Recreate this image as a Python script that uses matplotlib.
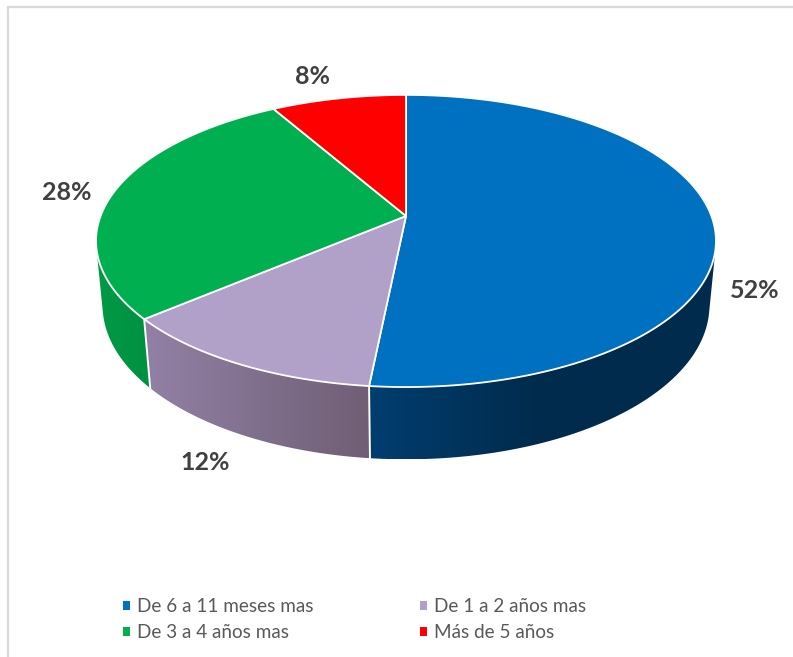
import numpy as np
import matplotlib
matplotlib.use("Agg")
import matplotlib.pyplot as plt
from matplotlib.patches import Patch, Polygon
from matplotlib.colors import to_rgb

categories = ["De 6 a 11 meses mas", "De 1 a 2 años mas", "De 3 a 4 años mas", "Más de 5 años"]
values = [51.6, 12.2, 27.9, 8.3]
labels = ["52%", "12%", "28%", "8%"]

top_colors = ["#0070C0", "#B1A0C7", "#00B050", "#FF0000"]
side_left = ["#003E70", "#9281A5", "#009A45", "#B00000"]
side_right = ["#002B4C", "#705F75", "#009040", "#B00000"]
side_fade = [170, 220, 60, 60]  # px of screen width the side gradient takes
label_pos = [(755, 291), (205, 463), (67, 193), (312, 76)]

plt.rcParams["font.family"] = ["Lato", "DejaVu Sans"]

fig = plt.figure(figsize=(7.93, 6.57), dpi=100, facecolor="white")
ax = fig.add_axes([0, 0, 1, 1])
ax.axis("off")

# perspective model of the disc
CX, CY = 406.0, 216.0
A, B, K = 141.8, 305.4, 0.171
D, E = 65.0, 0.021
VPY = CY + D / E  # the wall's vertical edges converge here


def top_pt(t):
    x, y = np.sin(t), -np.cos(t)
    w = 1 - K * y
    return CX + B * x / w, CY + A * y / w


def bot_pt(t):
    x, y = np.sin(t), -np.cos(t)
    w = 1 - K * y + E
    return CX + B * x / w, CY + (A * y + D) / w


# silhouette: the wall is visible between the two tangents drawn from the vanishing point
scan = np.linspace(0, np.pi, 4000)
sx, sy = top_pt(scan)
t_right = scan[np.argmax((sx - CX) / (VPY - sy))]
t_left = 2 * np.pi - t_right

# frame (only left and top edges are visible)
ax.plot([8, 8, 793], [657, 6.5, 6.5], color="#D9D9D9", lw=1.6, solid_joinstyle="miter", zorder=0)

edges = np.radians(np.concatenate([[0], np.cumsum(values)]) / np.sum(values) * 360)

# side walls: a horizontal gradient image clipped to each wall's visible outline
for i in range(len(values)):
    lo, hi = max(edges[i], t_right), min(edges[i + 1], t_left)
    if hi <= lo:
        continue
    t = np.linspace(lo, hi, 300)
    xt, yt = top_pt(t)
    xb, yb = bot_pt(t)
    outline = np.column_stack([np.r_[xt, xb[::-1]], np.r_[yt, yb[::-1]]])
    x_lo, x_hi = outline[:, 0].min(), outline[:, 0].max()
    y_lo, y_hi = outline[:, 1].min(), outline[:, 1].max()
    cols = np.linspace(x_lo, x_hi, 400)
    f = np.clip((cols - xt.min()) / side_fade[i], 0, 1)[None, :, None]
    cl, cr = np.array(to_rgb(side_left[i])), np.array(to_rgb(side_right[i]))
    img = cl[None, None, :] + (cr - cl)[None, None, :] * f
    im = ax.imshow(img, extent=(x_lo, x_hi, y_hi, y_lo), aspect="auto", interpolation="bilinear", zorder=1)
    im.set_clip_path(Polygon(outline, closed=True, transform=ax.transData))

# wall separators visible on the front
for e in edges:
    if t_right < e < t_left:
        xa, ya = top_pt(e)
        xb, yb = bot_pt(e)
        ax.plot([xa, xb], [ya, yb], color="white", lw=1.4, zorder=2)

# top slices
for i in range(len(values)):
    t = np.linspace(edges[i], edges[i + 1], 200)
    xs, ys = top_pt(t)
    ax.fill(np.r_[CX, xs], np.r_[CY, ys], facecolor=top_colors[i], edgecolor="white",
            lw=1.3, joinstyle="round", zorder=3)

# data labels
for txt, (x, y) in zip(labels, label_pos):
    ax.text(x, y, txt, ha="center", va="center", fontsize=18, fontweight="bold", color="#404040", zorder=4)

ax.set_xlim(0, 793)
ax.set_ylim(657, 0)

# legend (filled column by column)
order = [0, 2, 1, 3]
handles = [Patch(facecolor=top_colors[i], edgecolor="none") for i in order]
leg = ax.legend(handles, [categories[i] for i in order], ncols=2, frameon=False,
                loc="upper left", bbox_to_anchor=(123 / 793, 1 - 598 / 657), borderaxespad=0, borderpad=0,
                fontsize=13.6, labelcolor="#595959", handlelength=0.37, handleheight=0.37,
                handletextpad=0.37, labelspacing=0.5, columnspacing=5.65)

fig.savefig("out.png", dpi=100, facecolor="white")
